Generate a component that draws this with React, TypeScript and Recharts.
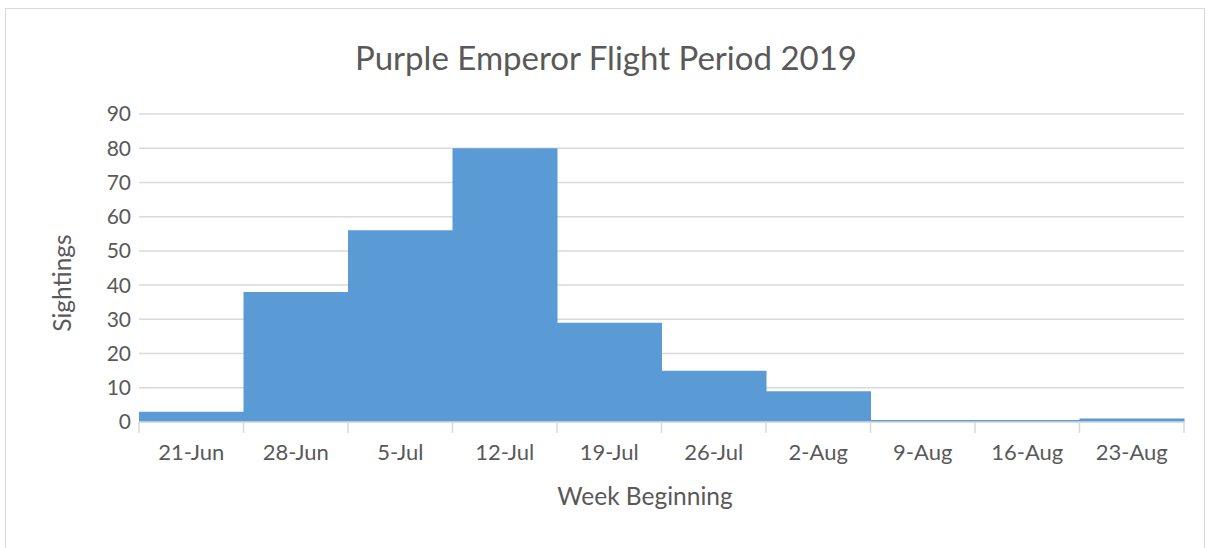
import React from "react";
import { BarChart, Bar, XAxis, YAxis, CartesianGrid } from "recharts";

const categories = ["21-Jun", "28-Jun", "5-Jul", "12-Jul", "19-Jul", "26-Jul", "2-Aug", "9-Aug", "16-Aug", "23-Aug"];
const sightings = [3, 38, 56, 80, 29, 15, 9, 0, 0, 1];
const yTicks = [0, 10, 20, 30, 40, 50, 60, 70, 80, 90];

const data = categories.map((c, i) => ({ week: c, sightings: sightings[i] }));

const W = 1208;
const H = 548;
const PLOT_LEFT = 139;
const PLOT_RIGHT = 1184;
const PLOT_TOP = 114;
const PLOT_BOTTOM = 422;
const XAXIS_H = 60;
const YAXIS_W = 60;
const BAND = (PLOT_RIGHT - PLOT_LEFT) / categories.length;
const TEXT = "#595959";
const GRID = "#d9d9d9";
const FONT = "Lato, 'Open Sans', sans-serif";

const XTick = (props: any) => {
  const { x, y, payload, index } = props;
  const left = x - BAND / 2;
  const right = x + BAND / 2;
  const isLast = index === categories.length - 1;
  return (
    <g>
      <line x1={left} x2={left} y1={PLOT_BOTTOM} y2={PLOT_BOTTOM + 11} stroke={GRID} strokeWidth={1.5} />
      {isLast && <line x1={right} x2={right} y1={PLOT_BOTTOM} y2={PLOT_BOTTOM + 11} stroke={GRID} strokeWidth={1.5} />}
      <text x={x} y={y} dy="0.71em" textAnchor="middle" fill={TEXT} fontSize={22} fontFamily={FONT}>
        {payload.value}
      </text>
    </g>
  );
};

export default function App() {
  return (
    <div style={{ position: "absolute", left: 0, top: 0, width: W, height: H, background: "#fff", overflow: "hidden" }}>
      <div style={{ position: "absolute", left: 5, top: 8, width: 1200, height: 600, border: `1.5px solid ${GRID}`, boxSizing: "border-box" }} />
      <div style={{ position: "absolute", left: 0, top: 0 }}>
        <BarChart
          width={W}
          height={H}
          data={data}
          barCategoryGap={0}
          margin={{ top: PLOT_TOP, right: W - PLOT_RIGHT, bottom: H - PLOT_BOTTOM - XAXIS_H, left: PLOT_LEFT - YAXIS_W }}
        >
          <CartesianGrid vertical={false} stroke={GRID} strokeWidth={1.5} />
          <XAxis
            dataKey="week"
            height={XAXIS_H}
            interval={0}
            tickLine={false}
            tickSize={10}
            tickMargin={12}
            axisLine={{ stroke: GRID, strokeWidth: 1.5 }}
            tick={<XTick />}
          />
          <YAxis
            width={YAXIS_W}
            domain={[0, 90]}
            ticks={yTicks}
            interval={0}
            axisLine={false}
            tickLine={false}
            tickSize={0}
            tickMargin={8}
            tick={{ fill: TEXT, fontSize: 21, fontFamily: FONT }}
          />
          <Bar dataKey="sightings" fill="#5b9bd5" minPointSize={2} isAnimationActive={false} />
        </BarChart>
      </div>
      <div style={{ position: "absolute", left: 0, width: 1212, top: 37, textAlign: "center", color: TEXT, fontFamily: FONT, fontSize: 33, lineHeight: "40px", whiteSpace: "nowrap" }}>
        Purple Emperor Flight Period 2019
      </div>
      <div style={{ position: "absolute", left: 545, width: 200, top: 481, textAlign: "center", color: TEXT, fontFamily: FONT, fontSize: 24.5, lineHeight: "30px", whiteSpace: "nowrap" }}>
        Week Beginning
      </div>
      <div style={{ position: "absolute", left: 62 - 100, width: 200, top: 283 - 15, textAlign: "center", color: TEXT, fontFamily: FONT, fontSize: 24.5, lineHeight: "30px", transform: "rotate(-90deg)", whiteSpace: "nowrap" }}>
        Sightings
      </div>
    </div>
  );
}
